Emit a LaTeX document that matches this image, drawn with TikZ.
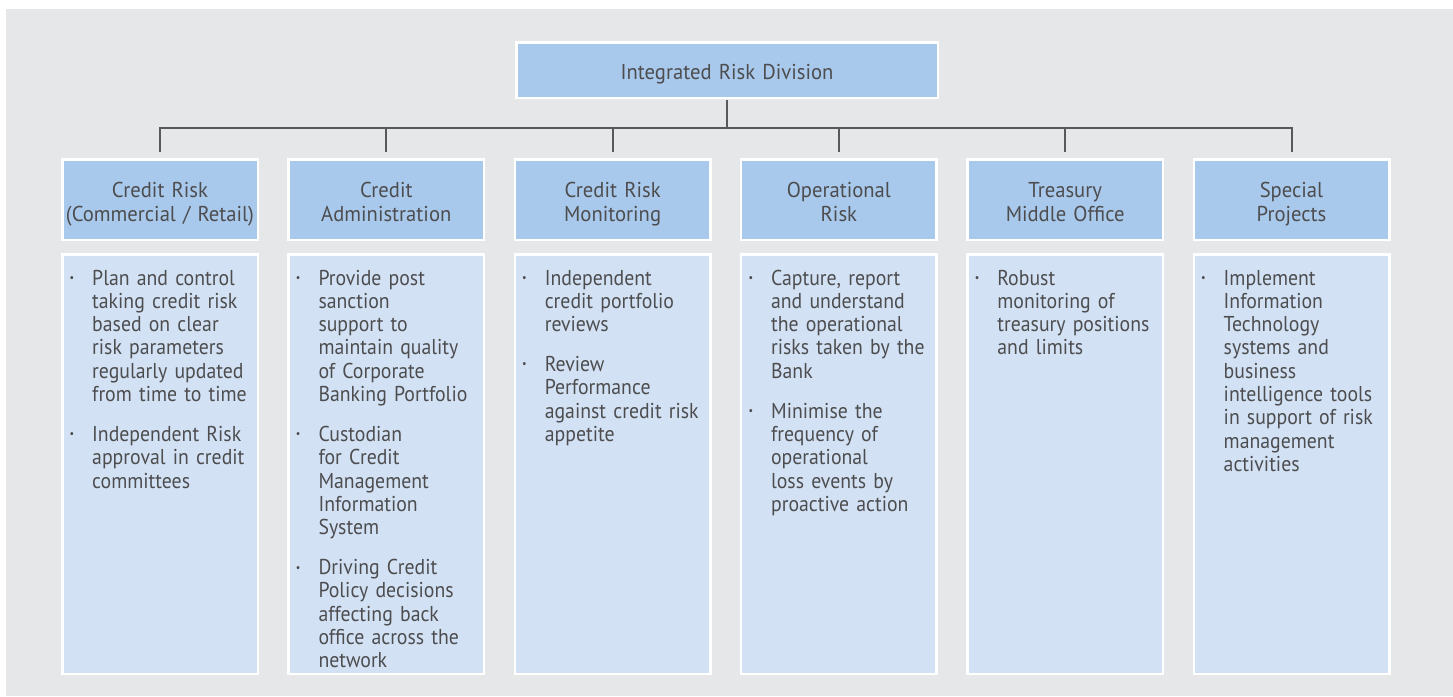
\documentclass[tikz,border=0pt]{standalone}
\usepackage{fontspec}
\setmainfont{PT Sans}
\newfontfamily\bodyfont{PT Sans}[FakeStretch=0.92]
\newfontfamily\headfont{PT Sans}[FakeStretch=0.96]
\definecolor{bg}{HTML}{E6E7E9}
\definecolor{hdr}{HTML}{A8C9EB}
\definecolor{bdy}{HTML}{D2E2F4}
\definecolor{ln}{HTML}{58595B}
\definecolor{txt}{HTML}{4D4D4F}
\newcommand\bul{\leavevmode\llap{\raisebox{3.5pt}{\fontsize{11}{11}\selectfont\textbullet}\hspace{18pt}}}
\begin{document}
\begin{tikzpicture}[x=1pt,y=-1pt,
  hbox/.style={draw=white,line width=2.5pt,fill=hdr,minimum width=195.5pt,minimum height=80.5pt,inner sep=0pt},
  htext/.style={anchor=base,inner sep=0pt,text width=224pt,align=center,text=txt,font=\headfont\fontsize{21.5}{24}\selectfont},
  bbox/.style={draw=white,line width=2.5pt,fill=bdy,minimum width=195.5pt,minimum height=419.5pt,inner sep=0pt},
  btext/.style={anchor=base west,inner sep=0pt,text width=180pt,align=left,text=txt,font=\bodyfont\fontsize{21.5}{23.33}\selectfont},
  conn/.style={draw=ln,line width=2pt}]
\useasboundingbox (0,0) rectangle (1453,696);
\fill[white] (0,0) rectangle (1453,696);
\fill[bg] (6,9) rectangle (1453,696);
\node[hbox,minimum width=421.5pt,minimum height=55.5pt] (top) at (727,70) {};
\node[htext,text width=420pt] (l0) at (727,79) {Integrated Risk Division};
\node[hbox] (h1) at (160,199.5) {};
\node[hbox] (h2) at (386.3,199.5) {};
\node[hbox] (h3) at (612.6,199.5) {};
\node[hbox] (h4) at (838.9,199.5) {};
\node[hbox] (h5) at (1065.2,199.5) {};
\node[hbox] (h6) at (1291.5,199.5) {};
\node[htext] (l1) at (160,197) {Credit Risk\\(Commercial / Retail)};
\node[htext] (l2) at (386.3,197) {Credit\\Administration};
\node[htext] (l3) at (612.6,197) {Credit Risk\\Monitoring};
\node[htext] (l4) at (838.9,197) {Operational\\Risk};
\node[htext] (l5) at (1065.2,197) {Treasury\\Middle Office};
\node[htext] (l6) at (1291.5,197) {Special\\Projects};
\node[bbox] (b1) at (160,464) {};
\node[bbox] (b2) at (386.3,464) {};
\node[bbox] (b3) at (612.6,464) {};
\node[bbox] (b4) at (838.9,464) {};
\node[bbox] (b5) at (1065.2,464) {};
\node[bbox] (b6) at (1291.5,464) {};
\coordinate (bus) at (727,128);
\draw[conn,shorten <=1.25pt] (top.south) -- (bus);
\draw[conn,shorten <=6.25pt,shorten >=6.25pt] (h1.north) |- (bus) -| (h6.north);
\foreach \n in {h2,h3,h4,h5}{\draw[conn,shorten >=6.25pt] (bus -| \n.north) -- (\n.north);}
\node[btext] (t1) at (92,285) {\bul Plan and control\\taking credit risk\\based on clear\\risk parameters\\regularly updated\\from time to time\\[16.5pt]
\bul Independent Risk\\approval in credit\\committees};
\node[btext] (t2) at (318.3,285) {\bul Provide post\\sanction\\support to\\maintain quality\\of Corporate\\Banking Portfolio\\[16.5pt]
\bul Custodian\\for Credit\\Management\\Information\\System\\[16.5pt]
\bul Driving Credit\\Policy decisions\\affecting back\\office across the\\network};
\node[btext] (t3) at (544.6,285) {\bul Independent\\credit portfolio\\reviews\\[16.5pt]
\bul Review\\Performance\\against credit risk\\appetite};
\node[btext] (t4) at (770.9,285) {\bul Capture, report\\and understand\\the operational\\risks taken by the\\Bank\\[16.5pt]
\bul Minimise the\\frequency of\\operational\\loss events by\\proactive action};
\node[btext] (t5) at (997.2,285) {\bul Robust\\monitoring of\\treasury positions\\and limits};
\node[btext] (t6) at (1223.5,285) {\bul Implement\\Information\\Technology\\systems and\\business\\intelligence tools\\in support of risk\\management\\activities};
\end{tikzpicture}
\end{document}
